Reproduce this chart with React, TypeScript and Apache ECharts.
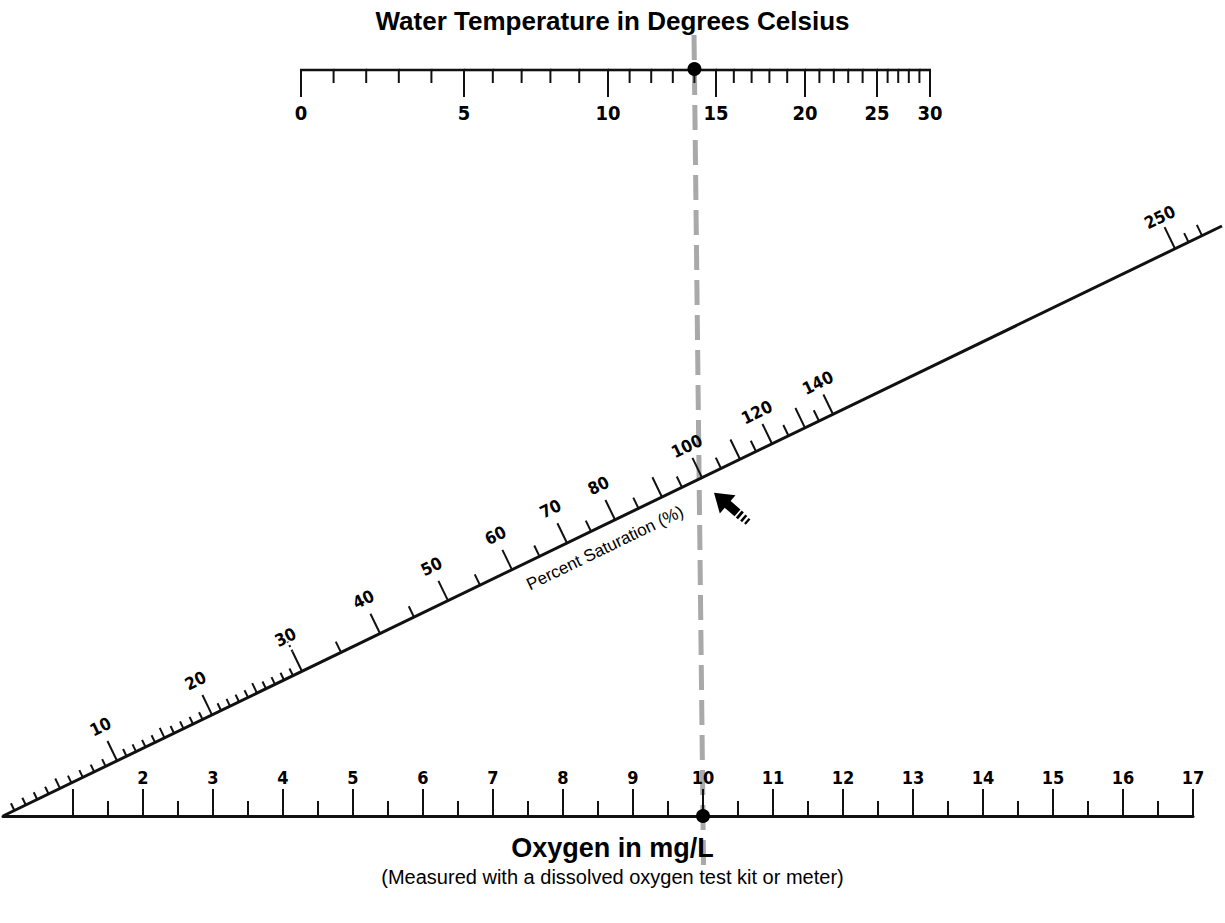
import React, { useEffect, useRef } from "react";
import * as echarts from "echarts";

// ---------------- data ----------------
// Oxygen scale (mg/L), bottom
const oxygenTicks = [1, 1.5, 2, 2.5, 3, 3.5, 4, 4.5, 5, 5.5, 6, 6.5, 7, 7.5, 8, 8.5, 9, 9.5, 10, 10.5, 11, 11.5, 12, 12.5, 13, 13.5, 14, 14.5, 15, 15.5, 16, 16.5, 17];
const oxygenLabels = [2, 3, 4, 5, 6, 7, 8, 9, 10, 11, 12, 13, 14, 15, 16, 17];

// Water temperature scale (°C), top
const temperatureTicks = [0, 1, 2, 3, 4, 5, 6, 7, 8, 9, 10, 11, 12, 13, 14, 15, 16, 17, 18, 19, 20, 21, 22, 23, 24, 25, 26, 27, 28, 29, 30];
const temperatureLabels = [0, 5, 10, 15, 20, 25, 30];

// Percent saturation scale (%), diagonal
const saturationTicks = [1, 2, 3, 4, 5, 6, 7, 8, 9, 10, 11, 12, 13, 14, 15, 16, 17, 18, 19, 20, 21, 22, 23, 24, 25, 26, 27, 28, 29, 30, 35, 40, 45, 50, 55, 60, 65, 70, 75, 80, 85, 90, 95, 100, 105, 110, 115, 120, 125, 130, 135, 140, 250, 260, 270];
const saturationLabels = [10, 20, 30, 40, 50, 60, 70, 80, 100, 120, 140, 250];

// Example reading drawn on the nomogram
const readingTemperature = 14;
const readingOxygen = 10;
const readingSaturation = 100;

// ---------------- scale calibration (layout) ----------------
// Frame: x in oxygen-axis units (mg/L), y from 0 (oxygen line) to 1 (temperature line)
const TEMP_CAL_T = [0, 5, 10, 15, 20, 25, 30];
const TEMP_CAL_X = [4.257, 6.586, 8.643, 10.186, 11.457, 12.486, 13.243];
const SAT_CAL_S = [0, 10, 20, 30, 40, 50, 60, 70, 80, 90, 100, 110, 120, 130, 140, 250, 270];
const SAT_CAL_X = [0, 1.629, 2.986, 4.271, 5.386, 6.357, 7.271, 8.057, 8.743, 9.414, 9.986, 10.529, 10.986, 11.457, 11.857, 16.743, 17.129];
const DIAG_END = [17.414, 0.7909];

const FONT = "'Liberation Sans', Arial, Helvetica, sans-serif";
const NUM_FONT = "'Liberation Sans Narrow', 'Arial Narrow', 'DejaVu Sans Condensed', 'Liberation Sans', sans-serif";
const INK = "#111";

function interp(xs: number[], ys: number[], v: number): number {
  const n = xs.length;
  let i = 0;
  if (v <= xs[0]) i = 0;
  else if (v >= xs[n - 1]) i = n - 2;
  else {
    while (i < n - 2 && v > xs[i + 1]) i++;
  }
  const t = (v - xs[i]) / (xs[i + 1] - xs[i]);
  return ys[i] + t * (ys[i + 1] - ys[i]);
}
const tempToX = (t: number) => interp(TEMP_CAL_T, TEMP_CAL_X, t);
const satToPoint = (s: number) => {
  const x = interp(SAT_CAL_S, SAT_CAL_X, s);
  return [x, (x / DIAG_END[0]) * DIAG_END[1]];
};

function diagFrame(api: any) {
  const a = api.coord([0, 0]);
  const b = api.coord(DIAG_END);
  const dx = b[0] - a[0];
  const dy = b[1] - a[1];
  const L = Math.hypot(dx, dy);
  const ux = dx / L;
  const uy = dy / L;
  return { a, b, ux, uy, nx: uy, ny: -ux, rot: -Math.atan2(dy, dx) };
}

const numStyle = (text: string, size: number) => ({
  text,
  fill: "#000",
  fontFamily: NUM_FONT,
  fontWeight: "bold",
  fontSize: size,
  align: "center",
  verticalAlign: "middle",
});

export default function App() {
  const ref = useRef<HTMLDivElement>(null);

  useEffect(() => {
    if (!ref.current) return;
    const chart = echarts.init(ref.current, undefined, { renderer: "svg" });

    const option: any = {
      animation: false,
      backgroundColor: "#ffffff",
      title: [
        {
          text: "Water Temperature in Degrees Celsius",
          left: "center",
          top: 8,
          padding: 0,
          textStyle: { fontSize: 26, fontWeight: "bold", fontFamily: FONT, color: "#000" },
        },
        {
          text: "Oxygen in mg/L",
          left: "center",
          top: 834,
          padding: 0,
          textStyle: { fontSize: 27, fontWeight: "bold", fontFamily: FONT, color: "#000" },
        },
        {
          text: "(Measured with a dissolved oxygen test kit or meter)",
          left: "center",
          top: 867,
          padding: 0,
          textStyle: { fontSize: 20, fontWeight: "normal", fontFamily: FONT, color: "#000" },
        },
      ],
      grid: { left: 3, right: 32, top: 70, bottom: 107 },
      xAxis: {
        type: "value",
        min: 0,
        max: 17,
        interval: 1,
        axisLine: { show: true, lineStyle: { color: INK, width: 3 } },
        axisTick: { show: false },
        axisLabel: { show: false },
        splitLine: { show: false },
      },
      yAxis: {
        type: "value",
        min: 0,
        max: 1,
        show: false,
        splitLine: { show: false },
      },
      series: [
        // reading line (grey dashed)
        {
          type: "custom",
          name: "reading",
          z: 1,
          data: [[readingTemperature, readingOxygen]],
          encode: { x: 1, y: 0 },
          renderItem: (params: any, api: any) => {
            const top = api.coord([tempToX(api.value(0)), 1]);
            const bot = api.coord([api.value(1), 0]);
            const dx = top[0] - bot[0];
            const dy = top[1] - bot[1];
            const L = Math.hypot(dx, dy);
            const ex = dx / L;
            const ey = dy / L;
            const t0 = [top[0] + ex * 35, top[1] + ey * 35];
            const b0 = [bot[0] - ex * 55, bot[1] - ey * 55];
            return {
              type: "line",
              shape: { x1: t0[0], y1: t0[1], x2: b0[0], y2: b0[1] },
              style: { stroke: "#a9a9a9", lineWidth: 5, lineDash: [25, 10] },
            };
          },
        },
        // temperature scale (top)
        {
          type: "custom",
          name: "temperature",
          z: 2,
          data: temperatureTicks.map((t) => [t, 1]),
          encode: { x: 0, y: 1 },
          renderItem: (params: any, api: any) => {
            const t = api.value(0);
            const p = api.coord([tempToX(t), 1]);
            const major = temperatureLabels.indexOf(t) >= 0;
            const children: any[] = [
              {
                type: "line",
                shape: { x1: p[0], y1: p[1], x2: p[0], y2: p[1] + (major ? 27 : 13) },
                style: { stroke: INK, lineWidth: 2 },
              },
            ];
            if (params.dataIndex < temperatureTicks.length - 1) {
              const q = api.coord([tempToX(temperatureTicks[params.dataIndex + 1]), 1]);
              children.push({
                type: "line",
                shape: { x1: p[0] - (params.dataIndex === 0 ? 1 : 0), y1: p[1], x2: q[0] + 1, y2: q[1] },
                style: { stroke: INK, lineWidth: 2.6 },
              });
            }
            if (major) {
              children.push({ type: "text", x: p[0], y: p[1] + 43, style: numStyle(String(t), 20) });
            }
            return { type: "group", children };
          },
        },
        // oxygen scale ticks (bottom)
        {
          type: "custom",
          name: "oxygen",
          z: 2,
          data: oxygenTicks.map((o) => [o, 0]),
          encode: { x: 0, y: 1 },
          renderItem: (params: any, api: any) => {
            const o = api.value(0);
            const p = api.coord([o, 0]);
            const major = Math.round(o) === o;
            const children: any[] = [
              {
                type: "line",
                shape: { x1: p[0], y1: p[1], x2: p[0], y2: p[1] - (major ? 27 : 15) },
                style: { stroke: INK, lineWidth: 2 },
              },
            ];
            if (oxygenLabels.indexOf(o) >= 0) {
              children.push({ type: "text", x: p[0], y: p[1] - 39, style: numStyle(String(o), 18) });
            }
            return { type: "group", children };
          },
        },
        // diagonal line
        {
          type: "custom",
          name: "saturation line",
          z: 2,
          data: [[0, 0]],
          encode: { x: 0, y: 1 },
          renderItem: (params: any, api: any) => {
            const f = diagFrame(api);
            return {
              type: "line",
              shape: { x1: f.a[0], y1: f.a[1], x2: f.b[0], y2: f.b[1] },
              style: { stroke: INK, lineWidth: 3 },
            };
          },
        },
        // saturation ticks (diagonal)
        {
          type: "custom",
          name: "saturation",
          z: 2,
          data: saturationTicks.map((s) => [s, 0]),
          encode: { x: 0, y: 1 },
          renderItem: (params: any, api: any) => {
            const s = api.value(0);
            const f = diagFrame(api);
            const p = api.coord(satToPoint(s));
            let len = 8;
            if (s % 10 === 0) len = s === 250 ? 24 : 22;
            else if (s % 5 === 0) len = s < 30 ? 11 : 12;
            if (s === 260) len = 10;
            if (s === 270) len = 12;
            const children: any[] = [
              {
                type: "line",
                shape: { x1: p[0], y1: p[1], x2: p[0] + f.nx * len, y2: p[1] + f.ny * len },
                style: { stroke: INK, lineWidth: 2 },
              },
            ];
            if (s === 30) {
              children.push({
                type: "line",
                shape: {
                  x1: p[0] + f.nx * len,
                  y1: p[1] + f.ny * len,
                  x2: p[0] + f.nx * (len + 11),
                  y2: p[1] + f.ny * (len + 11),
                },
                style: { stroke: INK, lineWidth: 2, lineDash: [2, 3] },
              });
            }
            if (saturationLabels.indexOf(s) >= 0) {
              const off = s >= 100 ? 35 : 38;
              children.push({
                type: "text",
                x: p[0] + f.nx * off,
                y: p[1] + f.ny * off,
                rotation: f.rot,
                style: numStyle(String(s), 17),
              });
            }
            return { type: "group", children };
          },
        },
        // saturation axis name
        {
          type: "custom",
          name: "saturation name",
          z: 2,
          data: [[76, 0]],
          encode: { x: 0, y: 1 },
          renderItem: (params: any, api: any) => {
            const f = diagFrame(api);
            const p = api.coord(satToPoint(api.value(0)));
            return {
              type: "text",
              x: p[0] - f.nx * 21,
              y: p[1] - f.ny * 21,
              rotation: f.rot,
              style: {
                text: "Percent Saturation (%)",
                fill: "#000",
                fontFamily: FONT,
                fontSize: 17,
                align: "center",
                verticalAlign: "middle",
              },
            };
          },
        },
        // reading points (dots)
        {
          type: "custom",
          name: "reading points",
          z: 3,
          data: [[readingTemperature, readingOxygen]],
          encode: { x: 1, y: 0 },
          renderItem: (params: any, api: any) => {
            const top = api.coord([tempToX(api.value(0)), 1]);
            const bot = api.coord([api.value(1), 0]);
            return {
              type: "group",
              children: [
                { type: "circle", shape: { cx: top[0], cy: top[1] - 1, r: 7 }, style: { fill: "#000" } },
                { type: "circle", shape: { cx: bot[0], cy: bot[1], r: 7 }, style: { fill: "#000" } },
              ],
            };
          },
        },
        // arrow pointing at the saturation reading
        {
          type: "custom",
          name: "reading arrow",
          z: 3,
          data: [[readingSaturation, 0]],
          encode: { x: 0, y: 1 },
          renderItem: (params: any, api: any) => {
            const p = api.coord(satToPoint(api.value(0)));
            return {
              type: "group",
              x: p[0] + 12,
              y: p[1] + 15,
              rotation: 2.43,
              children: [
                { type: "polygon", shape: { points: [[0, 0], [-18, -12], [-18, 12]] }, style: { fill: "#000" } },
                { type: "rect", shape: { x: -31, y: -4.5, width: 14, height: 9 }, style: { fill: "#000" } },
                { type: "rect", shape: { x: -35.5, y: -4.5, width: 2.8, height: 9 }, style: { fill: "#000" } },
                { type: "rect", shape: { x: -40.5, y: -4, width: 2.5, height: 8 }, style: { fill: "#000" } },
                { type: "rect", shape: { x: -45, y: -3.5, width: 2.2, height: 7 }, style: { fill: "#000" } },
              ],
            };
          },
        },
      ],
    };

    chart.setOption(option);
    return () => chart.dispose();
  }, []);

  return (
    <div
      ref={ref}
      style={{ position: "fixed", left: 0, top: 0, width: 1225, height: 923, background: "#fff" }}
    />
  );
}
